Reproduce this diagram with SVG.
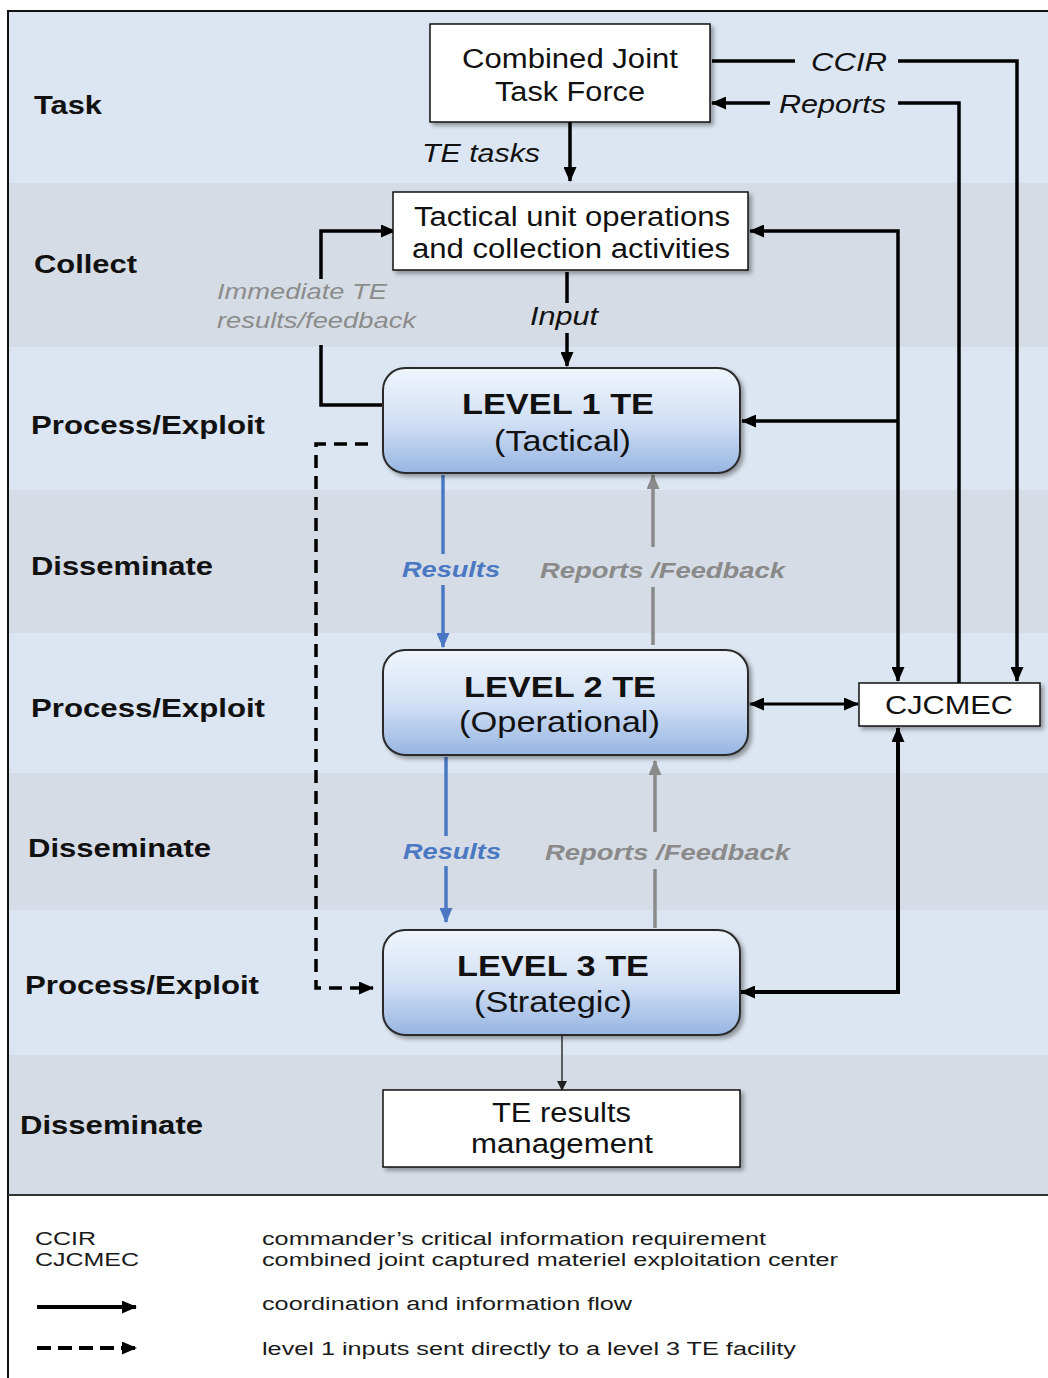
<svg xmlns="http://www.w3.org/2000/svg" width="1048" height="1378" viewBox="0 0 1048 1378">
<style>
text{font-family:"Liberation Sans",Arial,Helvetica,sans-serif;fill:#111}
.band{font-size:26px;font-weight:bold}
.box{font-size:27px}
.lvt{font-size:29px;font-weight:bold}
.lvs{font-size:29px}
.it{font-size:26px;font-style:italic}
.imm{font-size:22px;font-style:italic;fill:#8c8c8c}
.res{font-size:22px;font-style:italic;font-weight:bold;fill:#4a78c2}
.rep{font-size:22px;font-style:italic;font-weight:bold;fill:#8a8a8a}
.leg{font-size:18px;fill:#1a1a1a}
.k{fill:none;stroke:#000;stroke-width:3.5}
.kb{fill:none;stroke:#000;stroke-width:3}
.bl{fill:none;stroke:#4a78c2;stroke-width:3.5}
.gr{fill:none;stroke:#8a8a8a;stroke-width:3.5}
.dash{fill:none;stroke:#000;stroke-width:3.5;stroke-dasharray:13 8}
.plain{fill:#fff;stroke:#111;stroke-width:1.5}
.lvl{fill:url(#lg);stroke:#2a2a2a;stroke-width:2}
</style>
<defs>
<linearGradient id="lg" x1="0" y1="0" x2="0" y2="1">
<stop offset="0" stop-color="#f0f5fc"/>
<stop offset="0.5" stop-color="#d3e1f5"/>
<stop offset="1" stop-color="#97b5e2"/>
</linearGradient>
<filter id="sh" x="-10%" y="-10%" width="130%" height="140%">
<feDropShadow dx="3" dy="3" stdDeviation="2" flood-color="#000" flood-opacity="0.35"/>
</filter>
<marker id="ak" markerUnits="userSpaceOnUse" markerWidth="15" markerHeight="13" refX="14" refY="6.5" orient="auto-start-reverse"><path d="M0,0 L15,6.5 L0,13 Z" fill="#000"/></marker>
<marker id="ab" markerUnits="userSpaceOnUse" markerWidth="15" markerHeight="13" refX="14" refY="6.5" orient="auto"><path d="M0,0 L15,6.5 L0,13 Z" fill="#4a78c2"/></marker>
<marker id="ag" markerUnits="userSpaceOnUse" markerWidth="15" markerHeight="13" refX="14" refY="6.5" orient="auto"><path d="M0,0 L15,6.5 L0,13 Z" fill="#8a8a8a"/></marker>
<marker id="as" markerUnits="userSpaceOnUse" markerWidth="10" markerHeight="10" refX="9" refY="5" orient="auto"><path d="M0,0 L10,5 L0,10 Z" fill="#222"/></marker>
</defs>

<rect x="0" y="0" width="1048" height="1378" fill="#fff"/>
<g id="bands">
<rect x="8" y="11" width="1040" height="172" fill="#dce6f2"/>
<rect x="8" y="183" width="1040" height="164" fill="#d6dce5"/>
<rect x="8" y="347" width="1040" height="143" fill="#dce6f2"/>
<rect x="8" y="490" width="1040" height="143" fill="#d6dce5"/>
<rect x="8" y="633" width="1040" height="140" fill="#dce6f2"/>
<rect x="8" y="773" width="1040" height="137" fill="#d6dce5"/>
<rect x="8" y="910" width="1040" height="145" fill="#dce6f2"/>
<rect x="8" y="1055" width="1040" height="140" fill="#d6dce5"/>
<path d="M8,1378 V11 H1048" fill="none" stroke="#111" stroke-width="2"/>
<path d="M8,1195 H1048" fill="none" stroke="#333" stroke-width="2"/>
<text class="band" x="34" y="114" textLength="68" lengthAdjust="spacingAndGlyphs">Task</text>
<text class="band" x="34" y="273" textLength="103" lengthAdjust="spacingAndGlyphs">Collect</text>
<text class="band" x="31" y="434" textLength="234" lengthAdjust="spacingAndGlyphs">Process/Exploit</text>
<text class="band" x="31" y="575" textLength="182" lengthAdjust="spacingAndGlyphs">Disseminate</text>
<text class="band" x="31" y="717" textLength="234" lengthAdjust="spacingAndGlyphs">Process/Exploit</text>
<text class="band" x="28" y="857" textLength="183" lengthAdjust="spacingAndGlyphs">Disseminate</text>
<text class="band" x="25" y="994" textLength="234" lengthAdjust="spacingAndGlyphs">Process/Exploit</text>
<text class="band" x="20" y="1134" textLength="183" lengthAdjust="spacingAndGlyphs">Disseminate</text>
</g>

<g id="connectors">
<line class="k" x1="570" y1="122" x2="570" y2="181" marker-end="url(#ak)"/>
<path class="k" d="M712,61 H795"/>
<path class="k" d="M898,61 H1017 V681" marker-end="url(#ak)"/>
<path class="k" d="M959,683 V103 H898"/>
<path class="k" d="M770,103 H712" marker-end="url(#ak)"/>
<path class="k" d="M750,231 H898 V681" marker-start="url(#ak)" marker-end="url(#ak)"/>
<path class="k" d="M898,421 H742" marker-end="url(#ak)"/>
<path class="k" d="M567,272 V303"/>
<path class="k" d="M567,333 V366" marker-end="url(#ak)"/>
<path class="k" d="M383,405 H321 V345"/>
<path class="k" d="M321,279 V231 H395" marker-end="url(#ak)"/>
<path class="dash" d="M368,444 H316 V988 H373" marker-end="url(#ak)"/>
<path class="bl" d="M443,475 V554"/>
<path class="bl" d="M443,585 V647" marker-end="url(#ab)"/>
<path class="gr" d="M653,645 V587"/>
<path class="gr" d="M653,547 V475" marker-end="url(#ag)"/>
<path class="bl" d="M446,757 V836"/>
<path class="bl" d="M446,866 V922" marker-end="url(#ab)"/>
<path class="gr" d="M655,928 V869"/>
<path class="gr" d="M655,832 V761" marker-end="url(#ag)"/>
<path d="M562,1035 V1090" fill="none" stroke="#333" stroke-width="1.5" marker-end="url(#as)"/>
<path class="kb" d="M750,704 H858" marker-start="url(#ak)" marker-end="url(#ak)"/>
<path class="k" style="stroke-width:4" d="M898,728 V992 H741" marker-start="url(#ak)" marker-end="url(#ak)"/>
</g>

<g id="cjtf">
<rect class="plain" x="430" y="24" width="280" height="98" filter="url(#sh)"/>
<text class="box" x="462" y="68" textLength="216" lengthAdjust="spacingAndGlyphs">Combined Joint</text>
<text class="box" x="495" y="101" textLength="150" lengthAdjust="spacingAndGlyphs">Task Force</text>
</g>
<g id="labels-top">
<text class="it" x="422" y="162" textLength="118" lengthAdjust="spacingAndGlyphs">TE tasks</text>
<text class="it" x="811" y="71" textLength="76" lengthAdjust="spacingAndGlyphs">CCIR</text>
<text class="it" x="779" y="113" textLength="107" lengthAdjust="spacingAndGlyphs">Reports</text>
<text class="it" x="530" y="325" textLength="68" lengthAdjust="spacingAndGlyphs">Input</text>
<text class="imm" x="217" y="299" textLength="170" lengthAdjust="spacingAndGlyphs">Immediate TE</text>
<text class="imm" x="217" y="328" textLength="199" lengthAdjust="spacingAndGlyphs">results/feedback</text>
</g>
<g id="tactical-unit">
<rect class="plain" x="393" y="192" width="355" height="78" filter="url(#sh)"/>
<text class="box" x="414" y="226" textLength="316" lengthAdjust="spacingAndGlyphs">Tactical unit operations</text>
<text class="box" x="412" y="258" textLength="318" lengthAdjust="spacingAndGlyphs">and collection activities</text>
</g>
<g id="level1">
<rect class="lvl" x="383" y="368" width="357" height="105" rx="22" filter="url(#sh)"/>
<text class="lvt" x="462" y="414" textLength="192" lengthAdjust="spacingAndGlyphs">LEVEL 1 TE</text>
<text class="lvs" x="494" y="451" textLength="137" lengthAdjust="spacingAndGlyphs">(Tactical)</text>
</g>
<g id="dissem-labels-1">
<text class="res" x="402" y="577" textLength="98" lengthAdjust="spacingAndGlyphs">Results</text>
<text class="rep" x="540" y="578" textLength="245" lengthAdjust="spacingAndGlyphs">Reports /Feedback</text>
</g>
<g id="level2">
<rect class="lvl" x="383" y="650" width="365" height="105" rx="22" filter="url(#sh)"/>
<text class="lvt" x="464" y="697" textLength="192" lengthAdjust="spacingAndGlyphs">LEVEL 2 TE</text>
<text class="lvs" x="459" y="732" textLength="201" lengthAdjust="spacingAndGlyphs">(Operational)</text>
</g>
<g id="cjcmec">
<rect class="plain" x="859" y="683" width="181" height="43" filter="url(#sh)"/>
<text style="font-size:25px" x="885" y="714" textLength="128" lengthAdjust="spacingAndGlyphs">CJCMEC</text>
</g>
<g id="dissem-labels-2">
<text class="res" x="403" y="859" textLength="98" lengthAdjust="spacingAndGlyphs">Results</text>
<text class="rep" x="545" y="860" textLength="245" lengthAdjust="spacingAndGlyphs">Reports /Feedback</text>
</g>
<g id="level3">
<rect class="lvl" x="383" y="930" width="357" height="105" rx="22" filter="url(#sh)"/>
<text class="lvt" x="457" y="976" textLength="192" lengthAdjust="spacingAndGlyphs">LEVEL 3 TE</text>
<text class="lvs" x="474" y="1012" textLength="158" lengthAdjust="spacingAndGlyphs">(Strategic)</text>
</g>
<g id="te-results">
<rect class="plain" x="383" y="1090" width="357" height="77" filter="url(#sh)"/>
<text class="box" x="492" y="1122" textLength="139" lengthAdjust="spacingAndGlyphs">TE results</text>
<text class="box" x="471" y="1153" textLength="182" lengthAdjust="spacingAndGlyphs">management</text>
</g>

<g id="legend">
<text class="leg" x="35" y="1245" textLength="61" lengthAdjust="spacingAndGlyphs">CCIR</text>
<text class="leg" x="35" y="1266" textLength="104" lengthAdjust="spacingAndGlyphs">CJCMEC</text>
<text class="leg" x="262" y="1245" textLength="504" lengthAdjust="spacingAndGlyphs">commander’s critical information requirement</text>
<text class="leg" x="262" y="1266" textLength="576" lengthAdjust="spacingAndGlyphs">combined joint captured materiel exploitation center</text>
<path class="k" style="stroke-width:4" d="M37,1307 H136" marker-end="url(#ak)"/>
<text class="leg" x="262" y="1310" textLength="370" lengthAdjust="spacingAndGlyphs">coordination and information flow</text>
<path class="dash" style="stroke-width:4;stroke-dasharray:14 7" d="M37,1348 H136" marker-end="url(#ak)"/>
<text class="leg" x="262" y="1355" textLength="534" lengthAdjust="spacingAndGlyphs">level 1 inputs sent directly to a level 3 TE facility</text>
</g>
</svg>
